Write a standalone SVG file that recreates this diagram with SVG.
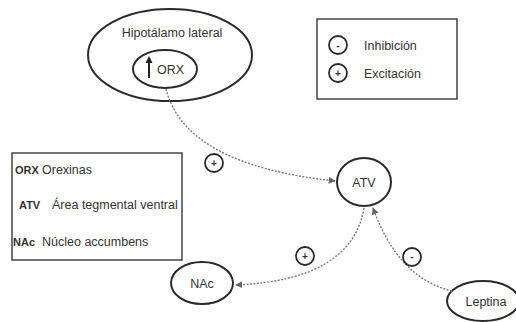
<svg xmlns="http://www.w3.org/2000/svg" width="516" height="322" viewBox="0 0 516 322">
<defs>
<style>
text{font-family:"Liberation Sans",Arial,sans-serif;font-size:12.5px;fill:#333}
.node{fill:#fff;stroke:#2a2a2a;stroke-width:2}
.sign{fill:#fff;stroke:#2a2a2a;stroke-width:1.8}
.box{fill:#fff;stroke:#444;stroke-width:1.5}
.conn{fill:none;stroke:#777;stroke-width:1.4;stroke-dasharray:2 1.5}
.c{text-anchor:middle}
.b{font-weight:bold;font-size:11px}
.s{font-size:10px;font-weight:bold}
</style>
<marker id="arr" viewBox="0 0 10 10" refX="9" refY="5" markerWidth="7" markerHeight="7" orient="auto" markerUnits="userSpaceOnUse">
<path d="M0,0 L10,5 L0,10 z" fill="#666"/>
</marker>
</defs>
<rect width="516" height="322" fill="#fff"/>

<g id="hipotalamo">
<ellipse class="node" cx="170" cy="55" rx="82" ry="46"/>
<text class="c" x="172" y="37">Hipotálamo lateral</text>
</g>
<g id="orx">
<ellipse class="node" cx="165" cy="69" rx="32" ry="19"/>
<path d="M149,78 V62" stroke="#222" stroke-width="2"/>
<path d="M145.5,63 L149,56 L152.5,63 z" fill="#222"/>
<text x="157" y="73.5">ORX</text>
</g>

<g id="leyenda">
<rect class="box" x="317" y="19" width="140" height="80"/>
<circle class="sign" cx="338" cy="45" r="9"/>
<text class="c s" x="338" y="48.5">-</text>
<text x="364" y="49.5">Inhibición</text>
<circle class="sign" cx="338" cy="73" r="9"/>
<text class="c s" x="338" y="76.5">+</text>
<text x="364" y="77.5">Excitación</text>
</g>

<g id="abreviaturas">
<rect class="box" x="12" y="153" width="170" height="107"/>
<text class="b" x="15" y="174">ORX</text>
<text x="42" y="174">Orexinas</text>
<text class="b" x="19" y="209">ATV</text>
<text x="52" y="209">Área tegmental ventral</text>
<text class="b" x="13" y="246">NAc</text>
<text x="42" y="246">Núcleo accumbens</text>
</g>

<g id="atv">
<ellipse class="node" cx="364" cy="182" rx="27" ry="24"/>
<text class="c" x="364" y="186.5">ATV</text>
</g>
<g id="nac">
<ellipse class="node" cx="202" cy="283" rx="31" ry="21"/>
<text class="c" x="202" y="287.5">NAc</text>
</g>
<g id="leptina">
<ellipse class="node" cx="483" cy="301" rx="36" ry="20"/>
<text class="c" x="486" y="305.5">Leptina</text>
</g>

<g id="connectors">
<path class="conn" d="M166,89 Q185,165 335,181" marker-end="url(#arr)"/>
<path class="conn" d="M364,208 Q352,280 236,285" marker-end="url(#arr)"/>
<path class="conn" d="M452,291 Q398,278 373,208" marker-end="url(#arr)"/>
<circle class="sign" cx="214" cy="163" r="9"/>
<text class="c s" x="214" y="166.5">+</text>
<circle class="sign" cx="305" cy="256" r="9"/>
<text class="c s" x="305" y="259.5">+</text>
<circle class="sign" cx="412" cy="257" r="9"/>
<text class="c s" x="412" y="260">-</text>
</g>
</svg>
